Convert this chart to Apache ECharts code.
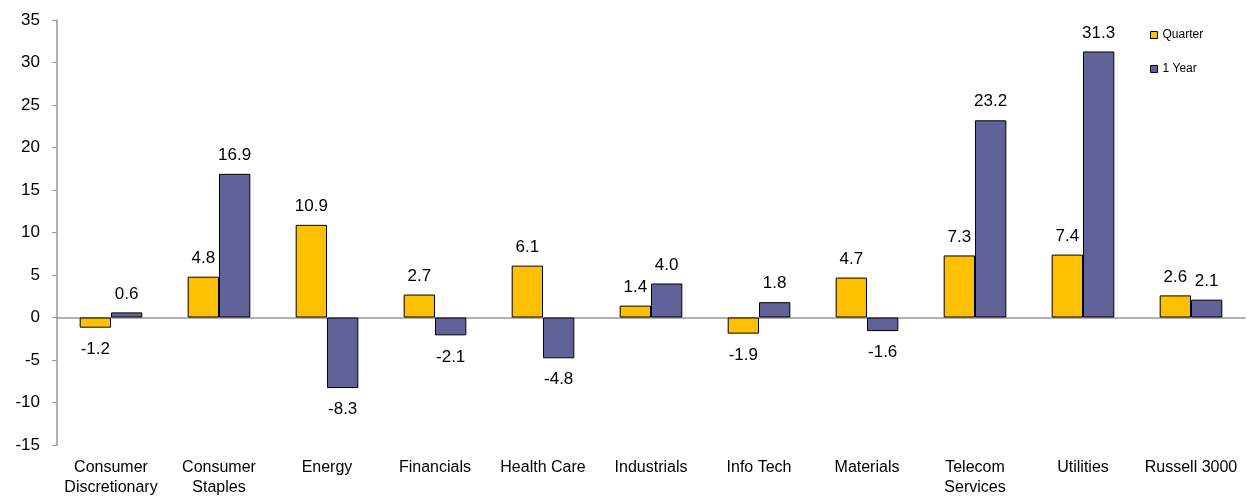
<!DOCTYPE html>
<html><head><meta charset="utf-8">
<script src="https://cdn.jsdelivr.net/npm/echarts@6/dist/echarts.min.js"></script>
<style>html,body{margin:0;padding:0;background:#fff}#c{width:1252px;height:498px}</style>
</head><body><div id="c"></div>
<script>
const categories = ['Consumer\nDiscretionary','Consumer\nStaples','Energy','Financials','Health Care','Industrials','Info Tech','Materials','Telecom\nServices','Utilities','Russell 3000'];
const quarter = [-1.2, 4.8, 10.9, 2.7, 6.1, 1.4, -1.9, 4.7, 7.3, 7.4, 2.6];
const oneYear = [0.6, 16.9, -8.3, -2.1, -4.8, 4.0, 1.8, -1.6, 23.2, 31.3, 2.1];
const seriesNames = ['Quarter', '1 Year'];

const font = 'Arial, "Liberation Sans", sans-serif';
function lbl(v){
  return {
    show: true,
    fontFamily: font, fontSize: 17, color: '#000',
    distance: v < 0 ? 13 : 10,
    formatter: p => p.value.toFixed(1),
    position: v < 0 ? 'bottom' : 'top'
  };
}
function mk(name, vals, color){
  return {
    name, type: 'bar', xAxisIndex: 0,
    barGap: '0%', barCategoryGap: '42%',
    itemStyle: { color, borderColor: '#000', borderWidth: 1 },
    data: vals.map(v => ({ value: v, label: lbl(v) }))
  };
}
const chart = echarts.init(document.getElementById('c'));
chart.setOption({
  animation: false,
  grid: { left: 57, right: 7, top: 20, bottom: 52 },
  legend: {
    orient: 'vertical', left: 1150, top: 29, padding: 0,
    itemWidth: 7, itemHeight: 7, itemGap: 22,
    textStyle: { fontFamily: font, fontSize: 12, lineHeight: 12, color: '#000' },
    icon: 'rect',
    itemStyle: { borderColor: '#000', borderWidth: 1 },
    data: seriesNames
  },
  xAxis: [
    { type: 'category', data: categories, position: 'bottom',
      axisLine: { onZero: true, lineStyle: { color: '#999', width: 1.5 } },
      axisTick: { show: false }, axisLabel: { show: false } },
    { type: 'category', data: categories, position: 'bottom',
      axisLine: { show: false }, axisTick: { show: false },
      axisLabel: { fontFamily: font, fontSize: 16, color: '#000', margin: 13, lineHeight: 20, interval: 0 } }
  ],
  yAxis: {
    type: 'value', min: -15, max: 35, interval: 5,
    axisLine: { show: true, lineStyle: { color: '#999', width: 1.5 } },
    axisTick: { show: true, inside: false, length: 5, lineStyle: { color: '#999' } },
    splitLine: { show: false },
    axisLabel: { fontFamily: font, fontSize: 17, color: '#000', margin: 17 }
  },
  series: [
    mk(seriesNames[0], quarter, '#FFC000'),
    mk(seriesNames[1], oneYear, '#62629A')
  ]
});
</script></body></html>
